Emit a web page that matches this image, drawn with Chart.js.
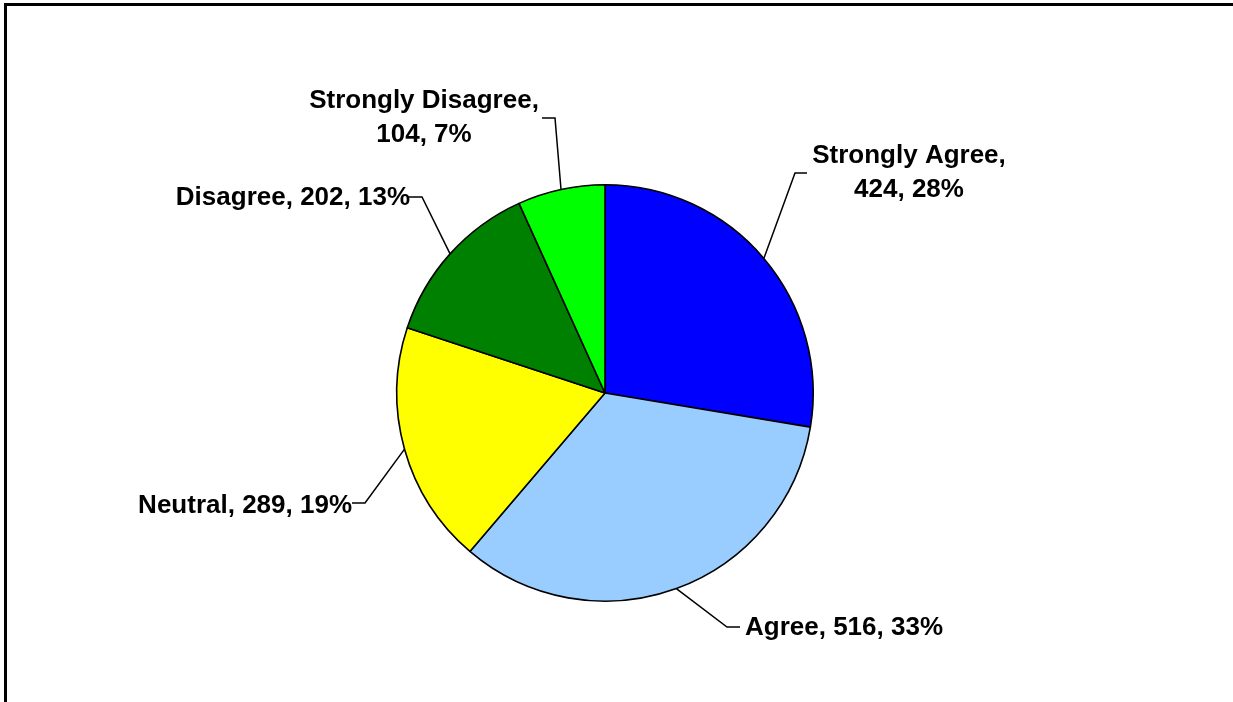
<!DOCTYPE html>
<html>
<head>
<meta charset="utf-8">
<script src="https://cdn.jsdelivr.net/npm/chart.js@4/dist/chart.umd.min.js"></script>
<style>
html,body{margin:0;padding:0;background:#fff;overflow:hidden;}
canvas{display:block;}
</style>
</head>
<body>
<canvas id="c" width="1233" height="702"></canvas>
<script>
const categories = ["Strongly Agree", "Agree", "Neutral", "Disagree", "Strongly Disagree"];
const counts = [424, 516, 289, 202, 104];
const percentLabels = ["28%", "33%", "19%", "13%", "7%"];
const colors = ["#0000FF", "#99CCFF", "#FFFF00", "#008000", "#00FF00"];

// label layout (offsets relative to pie centre), kept separate from data
const labelLayout = [
  { lines: 2, tx: 304, ty: -230, align: "center", elbow: [190, -220], hEnd: [202, -220] },
  { lines: 1, tx: 140, ty: 242, align: "left", elbow: [122, 234], hEnd: [135, 234] },
  { lines: 1, tx: -253, ty: 120, align: "right", elbow: [-240, 110], hEnd: [-253, 110] },
  { lines: 1, tx: -195, ty: -188, align: "right", elbow: [-183, -196], hEnd: [-197, -196] },
  { lines: 2, tx: -181, ty: -285, align: "center", elbow: [-50, -275], hEnd: [-63, -275] }
];

const FONT = "bold 26px 'Liberation Sans', Arial, sans-serif";

const framePlugin = {
  id: "frame",
  beforeDraw(chart) {
    const ctx = chart.ctx;
    ctx.save();
    ctx.fillStyle = "#fff";
    ctx.fillRect(0, 0, chart.width, chart.height);
    ctx.fillStyle = "#000";
    ctx.fillRect(4, 3, chart.width, 3);
    ctx.fillRect(4, 3, 3, chart.height);
    ctx.restore();
  }
};

const labelPlugin = {
  id: "pieLabels",
  afterDraw(chart) {
    const ctx = chart.ctx;
    const meta = chart.getDatasetMeta(0);
    ctx.save();
    ctx.font = FONT;
    ctx.fillStyle = "#000";
    ctx.strokeStyle = "#000";
    ctx.lineWidth = 1.5;
    meta.data.forEach((arc, i) => {
      const L = labelLayout[i];
      const cx = arc.x, cy = arc.y;
      const mid = (arc.startAngle + arc.endAngle) / 2;
      const r = arc.outerRadius;
      const sx = cx + Math.cos(mid) * r;
      const sy = cy + Math.sin(mid) * r;
      ctx.beginPath();
      ctx.moveTo(sx, sy);
      ctx.lineTo(cx + L.elbow[0], cy + L.elbow[1]);
      ctx.lineTo(cx + L.hEnd[0], cy + L.hEnd[1]);
      ctx.stroke();
      ctx.textAlign = L.align;
      ctx.textBaseline = "alphabetic";
      const tx = cx + L.tx, ty = cy + L.ty;
      if (L.lines === 2) {
        ctx.fillText(categories[i] + ",", tx, ty);
        ctx.fillText(counts[i] + ", " + percentLabels[i], tx, ty + 34);
      } else {
        ctx.fillText(categories[i] + ", " + counts[i] + ", " + percentLabels[i], tx, ty);
      }
    });
    ctx.restore();
  }
};

new Chart(document.getElementById("c"), {
  type: "pie",
  data: {
    labels: categories,
    datasets: [{
      data: counts,
      backgroundColor: colors,
      borderColor: "#000",
      borderWidth: 1.6,
      hoverOffset: 0
    }]
  },
  options: {
    responsive: false,
    animation: false,
    events: [],
    layout: { padding: { top: 184, bottom: 100, left: 396, right: 419 } },
    plugins: {
      legend: { display: false },
      tooltip: { enabled: false },
      title: { display: false }
    }
  },
  plugins: [framePlugin, labelPlugin]
});
</script>
</body>
</html>
